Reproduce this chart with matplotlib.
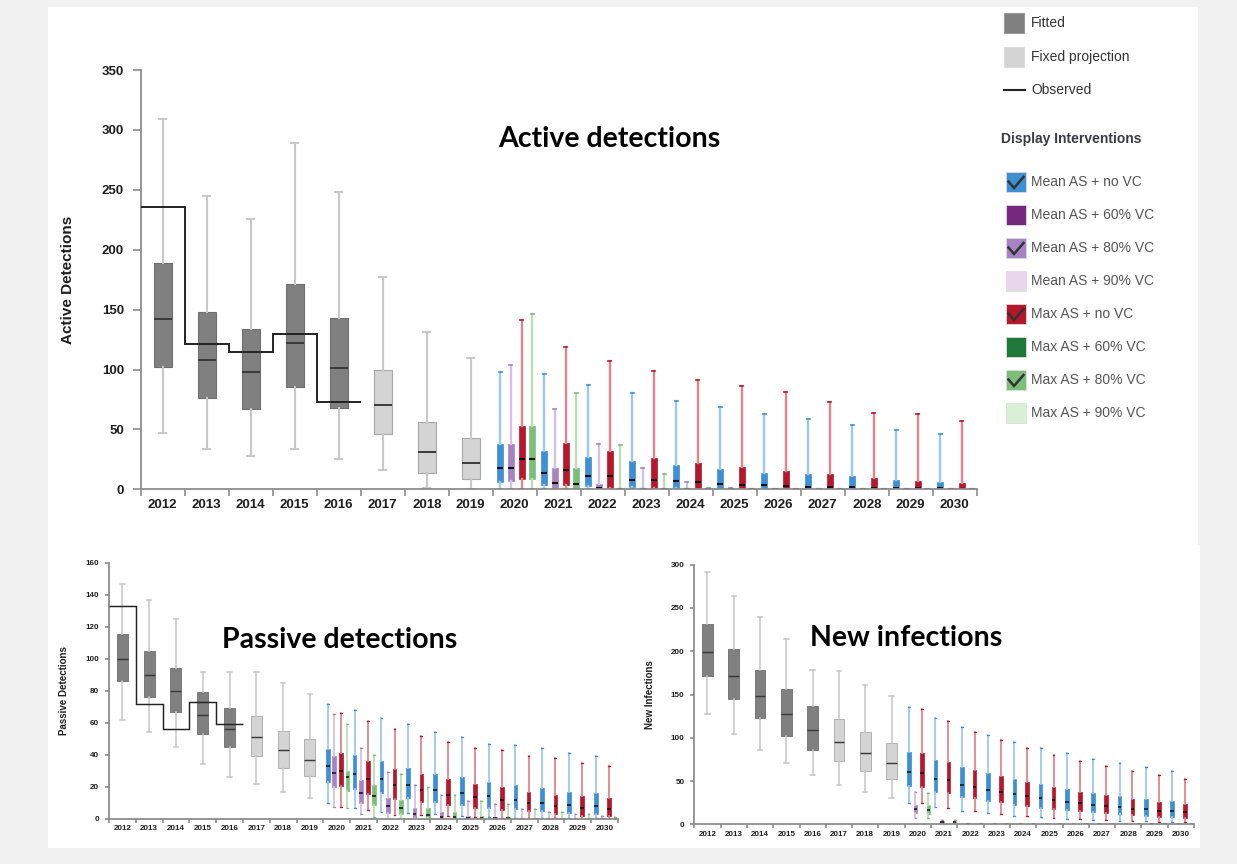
import numpy as np
import matplotlib
matplotlib.use("Agg")
import matplotlib.pyplot as plt
from matplotlib.patches import Rectangle

# ---------------- data ----------------
years = [str(y) for y in range(2012, 2031)]
n_fitted = 5          # 2012-2016 fitted, 2017-2019 fixed projection

# each row: [whisker low, q1, median, q3, whisker high]
active_fit = [[47, 102, 142, 189, 309], [34, 76, 108, 148, 245], [28, 67, 98, 134, 226],
              [34, 85, 122, 171, 289], [25, 68, 101, 143, 248], [16, 46, 70, 100, 177],
              [1, 14, 31, 56, 131], [0, 9, 22, 43, 110]]
active_obs = [236, 121, 115, 130, 73]
active_mean_novc = [[0, 6, 17.5, 37.5, 98], [0, 4, 14, 32, 96], [0, 3, 11, 27, 87], [0, 2, 8, 24, 80],
                    [0, 1, 7, 20, 74], [0, 0.5, 4.5, 17, 69], [0, 0.5, 4, 14, 63], [0, 0.3, 2, 12.5, 59],
                    [0, 0.3, 2, 11, 54], [0, 0.2, 1, 8, 49.5], [0, 0.2, 1, 6, 46]]
active_mean_80 = [[0, 7, 18, 38, 104], [0, 0.5, 5, 17.5, 67], [0, 0, 1, 4.5, 38], [0, 0, 0.3, 1, 17.5],
                  [0, 0, 0, 0.5, 6], [0, 0, 0, 0.3, 1], [0, 0, 0, 0.2, 0.5], [0, 0, 0, 0.2, 0.5],
                  [0, 0, 0, 0.2, 0.5], [0, 0, 0, 0.2, 0.5], [0, 0, 0, 0.2, 0.5]]
active_max_novc = [[0, 9, 25, 53, 141], [0, 4, 16, 39, 119], [0, 1.5, 11, 32, 107], [0, 0.8, 8, 26, 99],
                   [0, 0.5, 6, 22, 91], [0, 0.3, 4, 19, 86], [0, 0.3, 3, 15, 81], [0, 0.2, 2, 12.5, 73],
                   [0, 0.2, 1, 9.5, 64], [0, 0.2, 1, 7, 63], [0, 0.1, 0.5, 5, 57]]
active_max_80 = [[0, 9, 25, 53, 146], [0, 0, 4.5, 17.5, 80], [0, 0, 0.5, 1, 37], [0, 0, 0.3, 0.8, 12.5],
                 [0, 0, 0, 0.5, 1], [0, 0, 0, 0.3, 0.5], [0, 0, 0, 0.3, 0.5], [0, 0, 0, 0.3, 0.5],
                 [0, 0, 0, 0.3, 0.5], [0, 0, 0, 0.3, 0.5], [0, 0, 0, 0.3, 0.5]]

passive_fit = [[62, 86, 100, 115.6, 147], [54, 76, 90, 105, 137], [45, 67, 80, 94, 125],
               [34, 53, 65, 79, 91.5], [26, 45, 56, 69, 91.5], [22, 39, 51, 64, 91.5],
               [17, 32, 43, 55, 85], [13, 27, 37, 50, 78]]
passive_obs = [133, 72, 56, 73, 59]
passive_mean_novc = [[9.6, 22.7, 33, 43.8, 72], [6.9, 18.8, 28, 40, 68], [4.4, 15.8, 25, 36, 63],
                     [3.5, 12.7, 20.8, 32, 59], [2.9, 10.6, 18, 28, 54], [1.7, 8.8, 16.2, 25.8, 51],
                     [1, 6.9, 14, 23, 47], [0.6, 6, 12, 20.8, 46], [0.4, 4.6, 9.8, 19, 44],
                     [0.3, 3.5, 8.8, 17, 41], [0.2, 2.7, 8, 16, 39]]
passive_mean_80 = [[7.5, 20, 28.8, 39, 65.4], [2.7, 9.6, 16, 24, 44], [0, 3.5, 8, 13, 29],
                   [0, 0.6, 3, 7, 21], [0, 0, 0.8, 4, 15], [0, 0, 0.5, 1.9, 11], [0, 0, 0.2, 0.8, 9],
                   [0, 0, 0.1, 0.5, 6], [0, 0, 0.1, 0.3, 4], [0, 0, 0, 0.2, 3], [0, 0, 0, 0.2, 2]]
passive_max_novc = [[7.5, 20.6, 30, 40.8, 66], [5.2, 15.6, 25, 36, 61], [2.3, 12.5, 20.8, 30.8, 56],
                    [2.3, 10.4, 18, 28, 52], [1.7, 8.5, 14.8, 25, 48], [0.8, 6.9, 13.8, 21.9, 44],
                    [0.4, 5.6, 12, 19.8, 42.7], [0.2, 4.6, 10, 17, 39], [0.2, 2.9, 8, 14.8, 38],
                    [0.1, 1.9, 7, 14, 34.8], [0.1, 1.5, 6, 13, 33]]
passive_max_80 = [[7, 17.5, 25.8, 30, 59], [1.2, 8.5, 14, 20.8, 40], [0, 2.7, 7, 12, 28],
                  [0, 0.6, 2.5, 7, 20], [0, 0, 1.2, 4, 14.8], [0, 0, 0.4, 1.9, 11], [0, 0, 0.2, 0.8, 9],
                  [0, 0, 0.1, 0.5, 6], [0, 0, 0.1, 0.3, 4], [0, 0, 0, 0.2, 3], [0, 0, 0, 0.2, 1]]

infect_fit = [[127, 171, 199.5, 231, 292], [104.7, 144.4, 171, 202.5, 264], [85.5, 122.4, 148, 178, 240],
              [70.5, 101.7, 127, 156, 214], [56.6, 85.5, 108.6, 137, 178], [45.4, 73, 95, 121.7, 176.7],
              [37.4, 61.6, 82, 107, 161], [30.8, 52, 70.5, 94.3, 148]]
infect_mean_novc = [[24.6, 44.3, 60.8, 83.6, 136], [19.6, 37.4, 52.6, 74.5, 123], [15.8, 31.6, 45.4, 66, 112],
                    [12.7, 27, 39.3, 58.9, 102.8], [10, 22.3, 34.7, 52, 94.7], [8.1, 19.3, 30, 46.2, 87.8],
                    [6.5, 16.6, 26.2, 41.2, 82], [5, 14.2, 22.3, 36.6, 76], [4.2, 12.3, 19.6, 32.7, 70.8],
                    [3.5, 10, 17.7, 29.6, 65.8], [2.7, 8.5, 15.4, 26.6, 61.2]]
infect_mean_80 = [[7, 12.7, 18, 22.3, 37], [0.5, 1.8, 2.7, 3.5, 5.5], [0, 0.3, 0.8, 1.2, 2],
                  [0, 0, 0.2, 0.4, 0.8], [0, 0, 0.2, 0.4, 0.8], [0, 0, 0.2, 0.4, 0.8], [0, 0, 0.2, 0.4, 0.8],
                  [0, 0, 0.2, 0.4, 0.8], [0, 0, 0.2, 0.4, 0.8], [0, 0, 0.2, 0.4, 0.8], [0, 0, 0.2, 0.4, 0.8]]
infect_max_novc = [[24.3, 43.5, 59.7, 82, 133], [18.9, 35.8, 51.2, 72, 119.4], [15.4, 30, 43.5, 63, 107],
                   [11.9, 25.4, 37.7, 55.4, 97], [9.6, 21.2, 32.3, 48.9, 87.8], [7.7, 18.1, 28.1, 42.7, 80],
                   [6.2, 15.4, 24.3, 37.7, 73], [5, 12.7, 20.8, 33.5, 67], [3.9, 10.8, 18.1, 29.6, 61.6],
                   [3.1, 8.9, 15.4, 26.2, 56.6], [2.3, 7.7, 13.9, 23.1, 52.4]]
infect_max_80 = [[7, 12, 16.6, 22.3, 36.6], [0.5, 1.8, 2.7, 3.5, 5.5], [0, 0.3, 0.8, 1.2, 2],
                 [0, 0, 0.2, 0.4, 0.8], [0, 0, 0.2, 0.4, 0.8], [0, 0, 0.2, 0.4, 0.8], [0, 0, 0.2, 0.4, 0.8],
                 [0, 0, 0.2, 0.4, 0.8], [0, 0, 0.2, 0.4, 0.8], [0, 0, 0.2, 0.4, 0.8], [0, 0, 0.2, 0.4, 0.8]]

legend_top = ["Fitted", "Fixed projection", "Observed"]
legend_title = "Display Interventions"
interventions = ["Mean AS + no VC", "Mean AS + 60% VC", "Mean AS + 80% VC", "Mean AS + 90% VC",
                 "Max AS + no VC", "Max AS + 60% VC", "Max AS + 80% VC", "Max AS + 90% VC"]
intervention_colors = ["#3f8fd4", "#76287f", "#a783c3", "#e8d6ea", "#b5172d", "#1f7a3a", "#7cbf7a", "#d9efd6"]
intervention_checked = [True, False, True, False, True, False, True, False]
whisker_colors = {"#3f8fd4": "#9cc8ee", "#a783c3": "#d3c0e3", "#b5172d": "#e0838f", "#7cbf7a": "#b9deb6"}

# ---------------- figure ----------------
W, H = 1237, 864
fig = plt.figure(figsize=(W / 100, H / 100), dpi=100)
fig.patch.set_facecolor("#f1f1f1")
TICKFONT = "Liberation Sans"

bg = fig.add_axes([0, 0, 1, 1], zorder=-5)
bg.set_xlim(0, W); bg.set_ylim(H, 0); bg.axis("off")
bg.add_patch(Rectangle((48, 7), 1150, 538, color="white", lw=0))
bg.add_patch(Rectangle((48, 545), 1152, 303, color="white", lw=0))


def px_axes(left, right, y0, ytop):
    return fig.add_axes([left / W, 1 - y0 / H, (right - left) / W, (y0 - ytop) / H])


def to_stats(rows):
    return [dict(whislo=r[0], q1=r[1], med=r[2], q3=r[3], whishi=r[4]) for r in rows]


def draw(ax, fit, obs, series, fit_w, proj_w, lw_scale):
    n = len(fit)
    for i in range(n):
        dark = i < n_fitted
        fc = "#808080" if dark else "#d4d4d4"
        ec = "#6e6e6e" if dark else "#a9a9a9"
        ax.bxp(to_stats([fit[i]]), positions=[i + 0.5], widths=fit_w, patch_artist=True,
               showfliers=False, manage_ticks=False, capwidths=fit_w * 0.4,
               boxprops=dict(facecolor=fc, edgecolor=ec, linewidth=0.8 * lw_scale),
               medianprops=dict(color="#3a3a3a", linewidth=1.4 * lw_scale),
               whiskerprops=dict(color="#c8c8c8", linewidth=1.5 * lw_scale),
               capprops=dict(color="#c8c8c8", linewidth=1.5 * lw_scale))
    offsets = [0.17, 0.41, 0.66, 0.90]
    for k, (rows, col) in enumerate(series):
        pos = [n + j + offsets[k] for j in range(len(rows))]
        wc = whisker_colors[col]
        ax.bxp(to_stats(rows), positions=pos, widths=proj_w, patch_artist=True,
               showfliers=False, manage_ticks=False, capwidths=proj_w * 0.5,
               boxprops=dict(facecolor=col, edgecolor=col, linewidth=0.5),
               medianprops=dict(color="#111111", linewidth=1.5 * lw_scale, solid_capstyle="butt"),
               whiskerprops=dict(color=wc, linewidth=1.7 * lw_scale),
               capprops=dict(color=col, linewidth=1.2 * lw_scale))
    if obs is not None:
        ax.stairs(obs, np.arange(len(obs) + 1), baseline=None, color="#222222",
                  linewidth=1.4 * lw_scale, zorder=5)


def style(ax, ymax, ystep, fs, ylab, ylab_fs, ylabx, ylen, xlen, ypad, xpad):
    ax.set_facecolor("none")
    ax.set_xlim(0, 19)
    ax.set_ylim(0, ymax)
    for s in ["top", "right"]:
        ax.spines[s].set_visible(False)
    for s in ["left", "bottom"]:
        ax.spines[s].set_color("#8c8c8c")
        ax.spines[s].set_linewidth(1.3)
    ax.set_xticks(np.arange(20))
    ax.set_xticklabels([])
    ax.set_xticks(np.arange(19) + 0.5, minor=True)
    ax.set_xticklabels(years, minor=True, fontsize=fs, fontweight="bold", family=TICKFONT, color="#1e1e1e")
    ax.tick_params(axis="x", which="major", length=xlen, width=1.2, color="#8c8c8c")
    ax.tick_params(axis="x", which="minor", length=0, pad=xpad)
    ax.set_yticks(np.arange(0, ymax + 1, ystep))
    ax.set_yticklabels([str(v) for v in np.arange(0, ymax + 1, ystep)], fontsize=fs, fontweight="bold",
                       family=TICKFONT, color="#1e1e1e")
    ax.tick_params(axis="y", length=ylen, width=1.2, color="#8c8c8c", pad=ypad)
    ax.set_ylabel(ylab, fontsize=ylab_fs, family=TICKFONT, fontweight="bold", color="#1e1e1e")
    ax.yaxis.set_label_coords(ylabx, 0.5)


# top chart
ax1 = px_axes(140.7, 976.7, 489.3, 70)
draw(ax1, active_fit, active_obs,
     [(active_mean_novc, "#3f8fd4"), (active_mean_80, "#a783c3"),
      (active_max_novc, "#b5172d"), (active_max_80, "#7cbf7a")], 0.41, 0.135, 1.0)
style(ax1, 350, 50, 9.5, "Active Detections", 11, -0.0786, 6, 5, 6, 7)

# bottom-left
ax2 = px_axes(109, 618, 818.7, 562.7)
draw(ax2, passive_fit, passive_obs,
     [(passive_mean_novc, "#3f8fd4"), (passive_mean_80, "#a783c3"),
      (passive_max_novc, "#b5172d"), (passive_max_80, "#7cbf7a")], 0.41, 0.135, 0.75)
style(ax2, 160, 20, 5.8, "Passive Detections", 7, -0.0786, 3, 3, 4, 4.5)

# bottom-right
ax3 = px_axes(694.3, 1194, 824.3, 564.7)
draw(ax3, infect_fit, None,
     [(infect_mean_novc, "#3f8fd4"), (infect_mean_80, "#a783c3"),
      (infect_max_novc, "#b5172d"), (infect_max_80, "#7cbf7a")], 0.41, 0.135, 0.75)
style(ax3, 300, 50, 5.8, "New Infections", 7, -0.0787, 3, 3, 4, 4.5)

# overlay: titles and legend
ov = fig.add_axes([0, 0, 1, 1], zorder=10)
ov.set_xlim(0, W); ov.set_ylim(H, 0); ov.axis("off"); ov.set_facecolor("none")
TITLEFONT = "Lato"
ov.text(609, 139, "Active detections", ha="center", va="center", fontsize=20.5, fontweight="bold",
        family=TITLEFONT, color="black")
ov.text(340, 640, "Passive detections", ha="center", va="center", fontsize=20.5, fontweight="bold",
        family=TITLEFONT, color="black")
ov.text(906, 638, "New infections", ha="center", va="center", fontsize=20.5, fontweight="bold",
        family=TITLEFONT, color="black")

# legend top part
ov.add_patch(Rectangle((1004, 13), 20, 20, facecolor="#808080", edgecolor="#9a9a9a", lw=0.8))
ov.text(1031, 23, legend_top[0], va="center", fontsize=10, family=TICKFONT, color="#333333")
ov.add_patch(Rectangle((1004, 47), 20, 20, facecolor="#d4d4d4", edgecolor="#dcdcdc", lw=0.8))
ov.text(1031, 57, legend_top[1], va="center", fontsize=10, family=TICKFONT, color="#333333")
ov.plot([1004, 1025], [90, 90], color="#222222", lw=1.5)
ov.text(1031, 90, legend_top[2], va="center", fontsize=10, family=TICKFONT, color="#333333")
ov.text(1001, 139, legend_title, va="center", fontsize=10, fontweight="bold", family=TICKFONT,
        color="#3b3b48")
for i, (lab, col, chk) in enumerate(zip(interventions, intervention_colors, intervention_checked)):
    yc = 182 + i * 33
    ov.add_patch(Rectangle((1006, yc - 10), 20, 20, facecolor=col, edgecolor="#dddddd", lw=0.6))
    if chk:
        ov.plot([1008.5, 1014, 1023.5], [yc - 0.5, yc + 6, yc - 5], color="#333333", lw=1.8,
                solid_joinstyle="miter")
    ov.text(1031, yc, lab, va="center", fontsize=10, family=TICKFONT, color="#555555")

fig.savefig("out.png", dpi=100, facecolor=fig.get_facecolor())
